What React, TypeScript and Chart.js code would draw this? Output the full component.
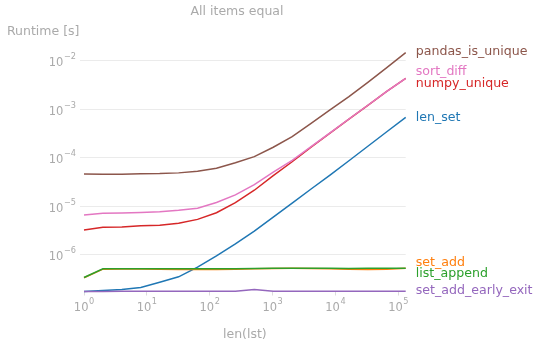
import React, { useEffect, useRef } from "react";
import { Chart, registerables } from "chart.js";

Chart.register(...registerables);

const lengths = [1, 2, 4, 8, 16, 32, 64, 128, 256, 512, 1024, 2048, 4096, 8192, 16384, 32768, 65536, 131072];

const pandasIsUnique = [4.67e-5, 4.6e-5, 4.6e-5, 4.7e-5, 4.75e-5, 4.9e-5, 5.3e-5, 6.1e-5, 7.9e-5, 1.06e-4, 1.65e-4, 2.73e-4, 5.1e-4, 9.7e-4, 1.82e-3, 3.59e-3, 7.2e-3, 1.46e-2];
const sortDiff = [6.68e-6, 7.2e-6, 7.3e-6, 7.5e-6, 7.8e-6, 8.3e-6, 9.2e-6, 1.2e-5, 1.73e-5, 2.8e-5, 5.1e-5, 8.9e-5, 1.7e-4, 3.27e-4, 6.3e-4, 1.21e-3, 2.34e-3, 4.34e-3];
const numpyUnique = [3.28e-6, 3.73e-6, 3.78e-6, 3.98e-6, 4.1e-6, 4.5e-6, 5.4e-6, 7.4e-6, 1.2e-5, 2.15e-5, 4.3e-5, 8.3e-5, 1.66e-4, 3.22e-4, 6.25e-4, 1.2e-3, 2.33e-3, 4.32e-3];
const lenSet = [1.78e-7, 1.85e-7, 1.95e-7, 2.15e-7, 2.75e-7, 3.55e-7, 5.6e-7, 9.6e-7, 1.7e-6, 3.1e-6, 6.0e-6, 1.17e-5, 2.28e-5, 4.4e-5, 8.7e-5, 1.73e-4, 3.44e-4, 6.8e-4];
const setAdd = [3.4e-7, 5.1e-7, 5.15e-7, 5.15e-7, 5.1e-7, 5.05e-7, 5.0e-7, 5.0e-7, 5.1e-7, 5.2e-7, 5.25e-7, 5.3e-7, 5.25e-7, 5.2e-7, 5.1e-7, 5.0e-7, 5.1e-7, 5.3e-7];
const listAppend = [3.43e-7, 5.18e-7, 5.2e-7, 5.22e-7, 5.2e-7, 5.2e-7, 5.18e-7, 5.2e-7, 5.22e-7, 5.25e-7, 5.3e-7, 5.35e-7, 5.3e-7, 5.3e-7, 5.28e-7, 5.3e-7, 5.3e-7, 5.35e-7];
const setAddEarlyExit = [1.78e-7, 1.78e-7, 1.79e-7, 1.79e-7, 1.79e-7, 1.79e-7, 1.79e-7, 1.79e-7, 1.8e-7, 1.95e-7, 1.8e-7, 1.79e-7, 1.79e-7, 1.79e-7, 1.79e-7, 1.79e-7, 1.79e-7, 1.79e-7];

const xTicks = [1, 10, 100, 1000, 10000, 100000];
const yTicks = [1e-6, 1e-5, 1e-4, 1e-3, 1e-2];

// plotting order (first drawn at the bottom)
const series = [
  { name: "len_set", values: lenSet, color: "#1f77b4", labelShift: 0 },
  { name: "set_add", values: setAdd, color: "#ff7f0e", labelShift: -6 },
  { name: "list_append", values: listAppend, color: "#2ca02c", labelShift: 6 },
  { name: "numpy_unique", values: numpyUnique, color: "#d62728", labelShift: 5 },
  { name: "set_add_early_exit", values: setAddEarlyExit, color: "#9467bd", labelShift: -1 },
  { name: "pandas_is_unique", values: pandasIsUnique, color: "#8c564b", labelShift: -1 },
  { name: "sort_diff", values: sortDiff, color: "#e377c2", labelShift: -7 },
];

const GRAY = "#aaaaaa";
const GRID = "#ebebeb";
const FONT = "DejaVu Sans";
const BASE_SIZE = 11.5;
const EXP_SIZE = 8.2;

function expText(v: number): string {
  const e = Math.round(Math.log10(v));
  return String(e).replace("-", "\u2212");
}

function drawPow(ctx: CanvasRenderingContext2D, v: number, x: number, baseline: number, align: "center" | "right") {
  const exp = expText(v);
  ctx.font = `${BASE_SIZE}px "${FONT}"`;
  const wb = ctx.measureText("10").width;
  ctx.font = `${EXP_SIZE}px "${FONT}"`;
  const we = ctx.measureText(exp).width;
  const total = wb + we + 0.5;
  const start = align === "center" ? x - total / 2 : x - total;
  ctx.textAlign = "left";
  ctx.textBaseline = "alphabetic";
  ctx.font = `${BASE_SIZE}px "${FONT}"`;
  ctx.fillText("10", start, baseline);
  ctx.font = `${EXP_SIZE}px "${FONT}"`;
  ctx.fillText(exp, start + wb + 0.5, baseline - 7);
}

const textPlugin = {
  id: "texts",
  afterDraw(chart: any) {
    const ctx = chart.ctx as CanvasRenderingContext2D;
    const area = chart.chartArea;
    const xs = chart.scales.x;
    const ys = chart.scales.y;
    ctx.save();
    ctx.fillStyle = GRAY;
    for (const v of xTicks) {
      drawPow(ctx, v, xs.getPixelForValue(v), area.bottom + 19.2, "center");
    }
    for (const v of yTicks) {
      drawPow(ctx, v, area.left - 8, ys.getPixelForValue(v) + 5.5, "right");
    }
    ctx.font = `12.5px "${FONT}"`;
    ctx.textBaseline = "middle";
    ctx.textAlign = "center";
    ctx.fillText("All items equal", 237, 12);
    ctx.fillText("len(lst)", (area.left + area.right) / 2, 335);
    ctx.textAlign = "left";
    ctx.fillText("Runtime [s]", 7, 31.5);
    const xEnd = xs.getPixelForValue(lengths[lengths.length - 1]);
    ctx.font = `12.6px "${FONT}"`;
    for (const s of series) {
      const y = ys.getPixelForValue(s.values[s.values.length - 1]) + s.labelShift;
      ctx.fillStyle = s.color;
      ctx.fillText(s.name, xEnd + 10, y);
    }
    ctx.restore();
  },
};

export default function App() {
  const ref = useRef<HTMLCanvasElement>(null);
  useEffect(() => {
    document.body.style.margin = "0";
    const datasets = series.map((s) => ({
      label: s.name,
      data: lengths.map((x, i) => ({ x, y: s.values[i] })),
      borderColor: s.color,
      backgroundColor: s.color,
      borderWidth: 1.5,
      pointRadius: 0,
      tension: 0,
      fill: false,
      clip: false,
    }));
    // Chart.js paints the first dataset on top, so reverse the plotting order.
    datasets.reverse();
    const chart = new Chart(ref.current as HTMLCanvasElement, {
      type: "line",
      data: { datasets },
      options: {
        responsive: false,
        animation: false,
        devicePixelRatio: 1,
        layout: { padding: { left: 0, right: 134.3, top: 52.7, bottom: 0 } },
        plugins: { legend: { display: false }, tooltip: { enabled: false }, title: { display: false } },
        scales: {
          x: {
            type: "logarithmic",
            min: 1,
            max: 131072,
            afterBuildTicks: (s: any) => {
              s.ticks = xTicks.map((v) => ({ value: v, major: true }));
            },
            afterFit: (s: any) => {
              s.height = 56.5;
            },
            ticks: { display: false, autoSkip: false },
            grid: { drawOnChartArea: false, drawTicks: true, tickLength: 4, color: "#dddddd" },
            border: { display: false },
          },
          y: {
            type: "logarithmic",
            min: 1.77e-7,
            max: 1.46e-2,
            afterBuildTicks: (s: any) => {
              s.ticks = yTicks.map((v) => ({ value: v, major: true }));
            },
            afterFit: (s: any) => {
              s.width = 84;
            },
            ticks: { display: false, autoSkip: false },
            grid: { color: GRID, tickLength: 4, lineWidth: 1 },
            border: { display: false },
          },
        },
      },
      plugins: [textPlugin],
    } as any);
    return () => chart.destroy();
  }, []);
  return (
    <div style={{ position: "absolute", left: 0, top: 0, width: 540, height: 348 }}>
      <canvas ref={ref} width={540} height={348} style={{ display: "block", width: 540, height: 348 }} />
    </div>
  );
}
